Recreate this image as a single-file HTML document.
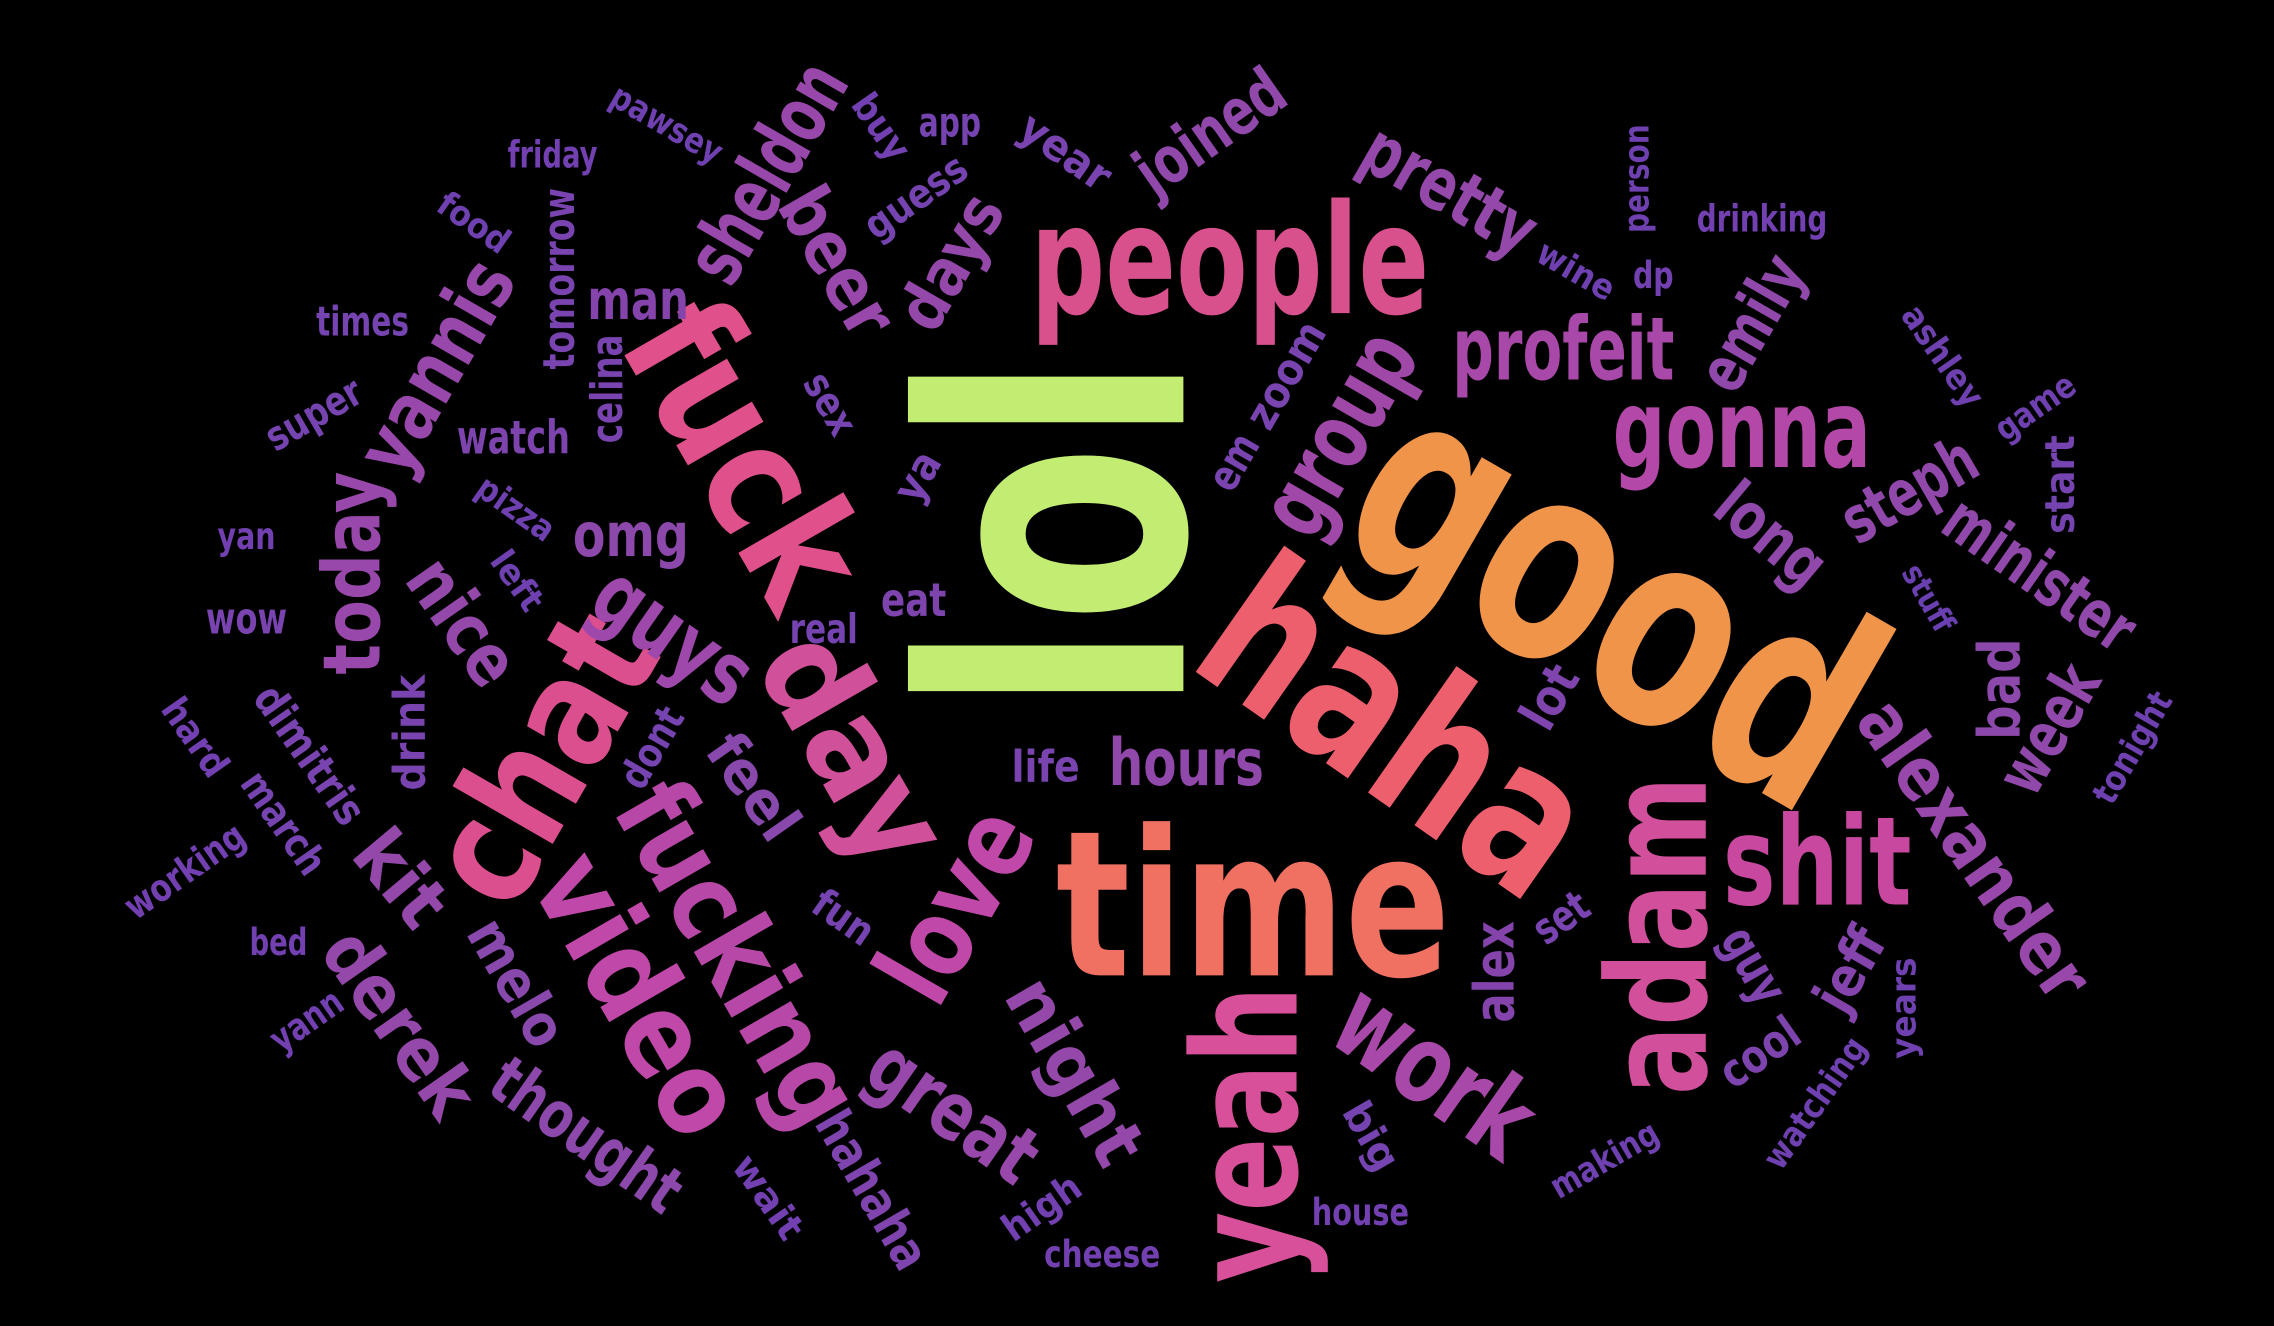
<!DOCTYPE html>
<html>
<head>
<meta charset="utf-8">
<style>
  html,body{margin:0;padding:0;background:#000;}
  svg{display:block;}
  text{font-family:"Liberation Sans Narrow","DejaVu Sans Condensed","Liberation Sans",sans-serif;font-weight:bold;}
</style>
</head>
<body>
<svg id="cloud" width="2274" height="1326" viewBox="0 0 1568 914" xmlns="http://www.w3.org/2000/svg">
  <rect x="0" y="0" width="1568" height="914" fill="#000"></rect>
  <g id="words"></g>
</svg>
<script>
const words = ["lol","good","haha","time","people","fuck","chat","yeah","adam","shit","video","fucking","day","love","gonna","profeit","work","group","guys","today","yannis","sheldon","beer","days","joined","pretty","emily","steph","long","minister","alexander","week","bad","great","night","hours","omg","nice","kit","derek","thought","melo","feel","hahaha","man","tomorrow","celina","watch","alex","jeff","guy","cool","lot","set","zoom","em","eat","real","ya","sex","life","fun","dont","drink","dimitris","march","hard","working","bed","yann","wow","yan","left","pizza","super","times","food","friday","pawsey","buy","app","guess","year","person","dp","wine","drinking","ashley","game","start","stuff","tonight","years","watching","making","house","big","high","cheese","wait"];
const weights = [250,190,140,140,105,110,105,100,95,85,80,75,90,75,75,60,75,65,60,55,55,55,50,45,45,50,45,45,45,45,50,45,40,55,50,45,42,50,50,50,45,40,40,35,38,30,30,32,38,38,35,32,35,30,30,30,32,28,30,28,30,28,28,30,30,28,26,26,26,26,30,26,24,24,28,28,24,26,24,26,28,28,30,24,26,24,26,24,24,28,22,24,24,24,24,26,28,26,26,26];
const colors = ["#c2ed72","#f0944a","#ee5f6e","#f07062","#d8508c","#e0508a","#dc4f8e","#d8509a","#d24f9c","#c8489f","#c048a8","#b848a8","#d0509a","#c048a8","#b448a8","#a848a8","#a848a8","#a048a8","#9d48aa","#9848aa","#9848aa","#9848aa","#9848aa","#9448aa","#9048aa","#9448aa","#9048aa","#9048aa","#9048aa","#9048aa","#9848aa","#9048aa","#8c48aa","#9848aa","#9448aa","#9048aa","#8c48aa","#9448aa","#9448aa","#9448aa","#8c48aa","#8848ac","#8848ac","#8044ae","#8444ac","#7a44b0","#7a44b0","#7e44ae","#8444ac","#8444ac","#8044ae","#7e44ae","#8044ae","#7a44b0","#7a44b0","#7a44b0","#7e44ae","#7644b0","#7a44b0","#7644b0","#7a44b0","#7644b0","#7644b0","#7a44b0","#7a44b0","#7644b0","#7240b0","#7240b0","#7240b0","#7240b0","#7a44b0","#7240b0","#6e40b0","#6e40b0","#7644b0","#7644b0","#6e40b0","#7240b0","#6e40b0","#7240b0","#7644b0","#7644b0","#7a44b0","#6e40b0","#7240b0","#6e40b0","#7240b0","#6e40b0","#6e40b0","#7644b0","#6a40b0","#6e40b0","#6e40b0","#6e40b0","#6e40b0","#7240b0","#7644b0","#7240b0","#7240b0","#7240b0"];
// layout (cloud placement, in 1568x914 viewBox units)
const px = [726,1115,965,864,848,515,372,858,1142,1253,442,510,590,658,1201,1078,990,922,465,242,300,528,578,655,834,1000,1207,1316,1222,1407,1362,1412,1378,658,742,818,435,320,277,276,405,357,520,602,440,385,418,354,1030,1275,1210,1213,1068,1076,886,850,630,568,632,573,721,582,449,282,214,196,135,127,192,211,170,170,357,356,216,250,327,381,460,608,655,631,735,1128,1140,1087,1215,1340,1403,1420,1330,1470,1312,1251,1106,938,946,718,760,530];
const py = [368,410,500,622,178,312,522,782,645,593,685,657,515,623,295,240,737,298,437,395,252,118,180,180,90,130,222,337,368,395,585,502,475,765,738,525,368,428,605,705,782,677,542,820,206,192,268,301,670,668,665,725,480,632,258,318,413,433,328,278,528,632,515,505,520,567,508,600,649,703,426,369,400,350,285,221,153,106,85,87,84,135,104,123,189,186,150,245,280,334,412,515,695,760,799,835,783,832,864,825];
const rot = [-90,30,35,0,0,60,-60,-90,-90,0,60,60,60,-60,0,0,35,-60,35,-90,-60,-60,60,-60,-35,30,-60,-30,40,35,55,-60,-90,35,60,0,0,55,50,55,35,60,55,60,0,-90,-90,0,-90,-60,60,-35,-60,-35,-60,-60,0,0,-60,60,0,35,-60,-90,55,55,55,-35,0,-35,0,0,55,35,-30,0,35,0,30,55,0,-35,35,-90,0,30,0,55,-35,-90,60,-60,-90,-55,-30,0,60,-35,0,55];
const lens = [247,380,290,272,275,220,210,205,220,130,210,260,170,140,178,153,150,150,120,140,160,165,110,100,115,130,100,100,85,150,240,95,70,130,140,107,80,95,70,145,150,95,80,120,70,125,75,78,70,60,55,60,45,40,80,40,45,47,35,45,47,45,60,80,110,80,60,95,40,55,56,40,45,60,72,64,55,62,85,50,43,80,70,75,28,58,90,80,62,68,50,85,70,105,82,67,50,60,80,65];

const g = document.getElementById('words');
const NS = 'http://www.w3.org/2000/svg';
for (let i = 0; i < words.length; i++) {
  const t = document.createElementNS(NS, 'text');
  t.setAttribute('x', px[i]);
  t.setAttribute('y', py[i]);
  t.setAttribute('dy', '0.36em');
  t.setAttribute('text-anchor', 'middle');
  t.setAttribute('font-size', weights[i]);
  t.setAttribute('fill', colors[i]);
  t.setAttribute('textLength', lens[i]);
  t.setAttribute('lengthAdjust', 'spacingAndGlyphs');
  t.setAttribute('transform', 'rotate(' + rot[i] + ' ' + px[i] + ' ' + py[i] + ')');
  
  
  t.textContent = words[i];
  g.appendChild(t);
}
</script>
</body>
</html>
